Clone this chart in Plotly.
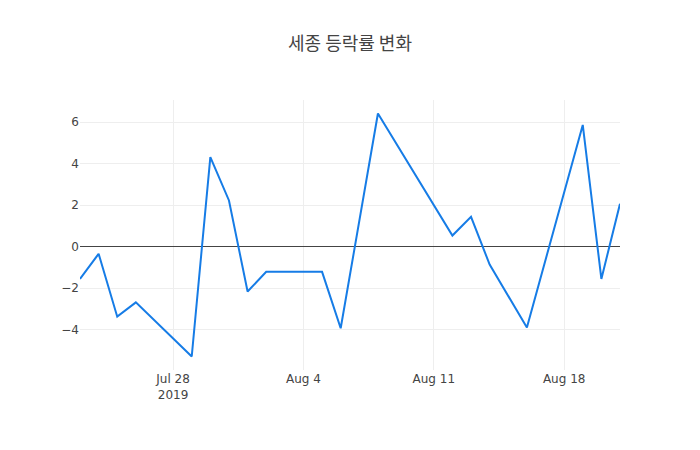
import plotly.graph_objects as go

dates = ["2019-07-23", "2019-07-24", "2019-07-25", "2019-07-26", "2019-07-29",
         "2019-07-30", "2019-07-31", "2019-08-01", "2019-08-02", "2019-08-05",
         "2019-08-06", "2019-08-08", "2019-08-12", "2019-08-13", "2019-08-14",
         "2019-08-16", "2019-08-19", "2019-08-20", "2019-08-21"]
rates = [-1.56, -0.35, -3.38, -2.69, -5.30,
         4.31, 2.22, -2.17, -1.22, -1.22,
         -3.94, 6.41, 0.53, 1.43, -0.87,
         -3.90, 5.86, -1.56, 2.06]

fig = go.Figure(go.Scatter(x=dates, y=rates, mode="lines",
                           line=dict(color="rgb(22,124,230)", width=2)))
fig.update_layout(
    template="none",
    width=700, height=450,
    font=dict(family="DejaVu Sans, Verdana, sans-serif", size=12, color="#444"),
    title=dict(text="세종 등락률 변화", x=0.5, xanchor="center",
               font=dict(family="Noto Sans CJK KR, sans-serif", size=18, color="#444")),
    margin=dict(l=80, r=80, t=100, b=80),
    xaxis=dict(showgrid=True, gridcolor="#eee", zeroline=False),
    yaxis=dict(showgrid=True, gridcolor="#eee", zeroline=True,
               zerolinecolor="#444", zerolinewidth=1, dtick=2),
    plot_bgcolor="white", paper_bgcolor="white",
    showlegend=False,
)
fig.write_html("out.html", config={"displayModeBar": False},
               post_script="document.body.style.margin='0';")
